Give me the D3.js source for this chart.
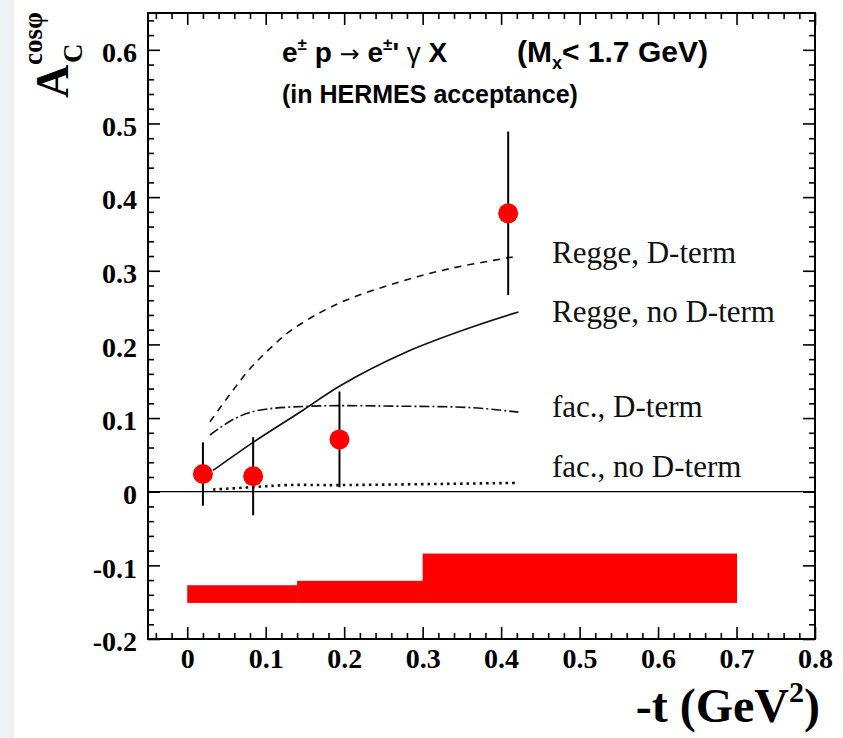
<!DOCTYPE html>
<html>
<head>
<meta charset="utf-8">
<script src="https://cdnjs.cloudflare.com/ajax/libs/d3/7.8.5/d3.min.js"></script>
<style>
  body { margin: 0; background: #fff; }
  svg { display: block; }
</style>
</head>
<body>
<div class="chart"></div>
<script>
// data points: -t, A_C, stat error
var tVals = [0.020, 0.084, 0.194, 0.409];
var aVals = [0.024, 0.021, 0.071, 0.378];
var aErr  = [0.043, 0.053, 0.065, 0.111];

// model curves
var dashT         = [0.029, 0.055, 0.080, 0.106, 0.131, 0.169, 0.207, 0.271, 0.335, 0.422];
var reggeDterm    = [0.095, 0.133, 0.167, 0.195, 0.218, 0.243, 0.262, 0.285, 0.303, 0.320];
var solidT        = [0.033, 0.084, 0.148, 0.195, 0.280, 0.364, 0.422];
var reggeNoDterm  = [0.029, 0.067, 0.111, 0.144, 0.190, 0.224, 0.244];
var facT          = [0.029, 0.060, 0.089, 0.153, 0.280, 0.364, 0.422];
var facDterm      = [0.077, 0.099, 0.110, 0.116, 0.116, 0.114, 0.108];
var dotT          = [0.033, 0.080, 0.127, 0.195, 0.422];
var facNoDterm    = [0.003, 0.006, 0.009, 0.009, 0.012];

// systematic error band: bin edges, top values, common bottom
var bandEdges = [0.0, 0.14, 0.30, 0.70];
var bandTop   = [-0.127, -0.121, -0.084];
var bandBottom = -0.151;

var legendNames = ["Regge, D-term", "Regge, no D-term", "fac., D-term", "fac., no D-term"];
var legendVals  = [0.310, 0.230, 0.101, 0.020];

var xMajor = [0, 0.1, 0.2, 0.3, 0.4, 0.5, 0.6, 0.7, 0.8];
var yMajor = [-0.2, -0.1, 0, 0.1, 0.2, 0.3, 0.4, 0.5, 0.6];

var W = 843, H = 738;
var frameL = 148, frameR = 815, frameT = 13, frameB = 639;

var svg = d3.select(".chart").append("svg")
    .attr("width", W)
    .attr("height", H);

// faint strip on the left like the scan
svg.append("rect")
    .attr("x", 0).attr("y", 0)
    .attr("width", 14).attr("height", H)
    .attr("fill", "#eef1f6");

var x = d3.scaleLinear().domain([-0.05, 0.8]).range([frameL, frameR]);
var y = d3.scaleLinear().domain([-0.2, 0.65]).range([frameB, frameT]);

var xMinor = d3.range(-2, 41).map(function(i){ return i * 0.02; })
    .filter(function(v){ return Math.abs(v * 10 - Math.round(v * 10)) > 1e-6; });
var yMinor = d3.range(-10, 33).map(function(i){ return i * 0.02; })
    .filter(function(v){ return Math.abs(v * 10 - Math.round(v * 10)) > 1e-6; });

var serif = "'Liberation Serif', 'Times New Roman', serif";
var sans = "'Liberation Sans', Arial, Helvetica, sans-serif";

// tick label format with plain hyphen like the original
function fmt(d) {
  if (Math.abs(d) < 1e-9) return "0";
  return (d < 0 ? "-" : "") + Math.abs(d).toFixed(1);
}

// error band
var bands = d3.range(bandTop.length).map(function(i){
  return {x0: bandEdges[i], x1: bandEdges[i+1], top: bandTop[i]};
});
svg.append("g").selectAll("rect")
  .data(bands)
  .enter()
    .append("rect")
    .attr("x", function(d){ return x(d.x0); })
    .attr("width", function(d){ return x(d.x1) - x(d.x0) + 0.5; })
    .attr("y", function(d){ return y(d.top); })
    .attr("height", function(d){ return y(bandBottom) - y(d.top); })
    .attr("fill", "#ff0000");

// zero line
svg.append("line")
    .attr("x1", frameL).attr("x2", frameR)
    .attr("y1", y(0)).attr("y2", y(0))
    .attr("stroke", "#000").attr("stroke-width", 1.3);

// curves
function drawCurve(ts, vs, dash, width) {
  var pts = ts.map(function(t, i){ return [t, vs[i]]; });
  var line = d3.line()
      .x(function(d){ return x(d[0]); })
      .y(function(d){ return y(d[1]); })
      .curve(d3.curveCatmullRom.alpha(0.5));
  svg.append("path")
      .datum(pts)
      .attr("fill", "none")
      .attr("stroke", "#111")
      .attr("stroke-width", width)
      .attr("stroke-dasharray", dash)
      .attr("d", line);
}
drawCurve(dashT, reggeDterm, "7,6", 1.6);
drawCurve(solidT, reggeNoDterm, null, 1.7);
drawCurve(facT, facDterm, "10,3,2,3", 1.6);
drawCurve(dotT, facNoDterm, "2.5,4", 2.6);

// error bars
svg.append("g").selectAll("line")
  .data(tVals)
  .enter()
    .append("line")
    .attr("x1", function(d){ return x(d); })
    .attr("x2", function(d){ return x(d); })
    .attr("y1", function(d, i){ return y(aVals[i] + aErr[i]); })
    .attr("y2", function(d, i){ return y(aVals[i] - aErr[i]); })
    .attr("stroke", "#000")
    .attr("stroke-width", 2);

// markers
svg.append("g").selectAll("circle")
  .data(tVals)
  .enter()
    .append("circle")
    .attr("cx", function(d){ return x(d); })
    .attr("cy", function(d, i){ return y(aVals[i]); })
    .attr("r", 10)
    .attr("fill", "#ff0000");

// axes: ticks inward on all sides
function styleAxis(g) {
  g.select(".domain").remove();
  g.selectAll(".tick line").attr("stroke", "#000").attr("stroke-width", 1.6);
  g.selectAll("text")
    .attr("fill", "#000")
    .style("font-family", serif)
    .style("font-weight", "bold")
    .style("font-size", "28px");
}

svg.append("g")
    .attr("transform", "translate(0," + frameB + ")")
    .call(d3.axisBottom(x).tickValues(xMajor).tickSize(-12).tickPadding(9).tickFormat(fmt))
    .call(styleAxis);
svg.append("g")
    .attr("transform", "translate(0," + frameB + ")")
    .call(d3.axisBottom(x).tickValues(xMinor).tickSize(-6).tickFormat(""))
    .call(styleAxis);
svg.append("g")
    .attr("transform", "translate(0," + frameT + ")")
    .call(d3.axisTop(x).tickValues(xMajor).tickSize(-12).tickFormat(""))
    .call(styleAxis);
svg.append("g")
    .attr("transform", "translate(0," + frameT + ")")
    .call(d3.axisTop(x).tickValues(xMinor).tickSize(-6).tickFormat(""))
    .call(styleAxis);

svg.append("g")
    .attr("transform", "translate(" + frameL + ",0)")
    .call(d3.axisLeft(y).tickValues(yMajor).tickSize(-12).tickPadding(11).tickFormat(fmt))
    .call(styleAxis)
    .selectAll("text").attr("dy", "0.42em");
svg.append("g")
    .attr("transform", "translate(" + frameL + ",0)")
    .call(d3.axisLeft(y).tickValues(yMinor).tickSize(-6).tickFormat(""))
    .call(styleAxis);
svg.append("g")
    .attr("transform", "translate(" + frameR + ",0)")
    .call(d3.axisRight(y).tickValues(yMajor).tickSize(-12).tickFormat(""))
    .call(styleAxis);
svg.append("g")
    .attr("transform", "translate(" + frameR + ",0)")
    .call(d3.axisRight(y).tickValues(yMinor).tickSize(-6).tickFormat(""))
    .call(styleAxis);

// frame
svg.append("rect")
    .attr("x", frameL).attr("y", frameT)
    .attr("width", frameR - frameL).attr("height", frameB - frameT)
    .attr("fill", "none")
    .attr("stroke", "#000")
    .attr("stroke-width", 2);

// legend labels next to the curves
svg.append("g").selectAll("text")
  .data(legendNames)
  .enter()
    .append("text")
    .attr("x", 552)
    .attr("y", function(d, i){ return y(legendVals[i]); })
    .style("font-family", serif)
    .style("font-size", "31px")
    .attr("fill", "#111")
    .text(function(d){ return d; });

// title
var title = svg.append("text")
    .attr("x", 282).attr("y", 62)
    .style("font-family", sans)
    .style("font-weight", "bold")
    .style("font-size", "28px")
    .attr("fill", "#000");
title.append("tspan").text("e");
title.append("tspan").attr("dy", -12).style("font-size", "17px").text("\u00b1");
title.append("tspan").attr("dy", 12).text(" p ");
title.append("tspan").style("font-weight", "normal").style("font-family", "'DejaVu Sans', sans-serif")
    .style("font-size", "24px").text("\u2192");
title.append("tspan").text(" e");
title.append("tspan").attr("dy", -12).style("font-size", "17px").text("\u00b1");
title.append("tspan").attr("dy", 12).text("' ");
title.append("tspan").style("font-weight", "normal").text("\u03b3");
title.append("tspan").text(" X");

var title2 = svg.append("text")
    .attr("x", 517).attr("y", 62)
    .style("font-family", sans)
    .style("font-weight", "bold")
    .style("font-size", "30px")
    .attr("fill", "#000");
title2.append("tspan").text("(M");
title2.append("tspan").attr("dy", 7).style("font-size", "18px").text("x");
title2.append("tspan").attr("dy", -7).text("< 1.7 GeV)");

svg.append("text")
    .attr("x", 282).attr("y", 103)
    .style("font-family", sans)
    .style("font-weight", "bold")
    .style("font-size", "25px")
    .attr("fill", "#000")
    .text("(in HERMES acceptance)");

// y label A_C^cos(phi), rotated
var ylab = svg.append("g")
    .attr("transform", "translate(68,98) rotate(-90)")
    .style("font-family", serif)
    .style("font-weight", "bold")
    .attr("fill", "#000");
ylab.append("text").attr("x", 0).attr("y", 0)
    .style("font-size", "46px").text("A");
ylab.append("text").attr("x", 35).attr("y", 14)
    .style("font-size", "27px").text("C");
ylab.append("text").attr("x", 33).attr("y", -26)
    .style("font-size", "27px").text("cos\u03c6");

// x label
var xlab = svg.append("text")
    .attr("x", 820).attr("y", 722)
    .attr("text-anchor", "end")
    .style("font-family", serif)
    .style("font-weight", "bold")
    .style("font-size", "48px")
    .attr("fill", "#000");
xlab.append("tspan").text("-t (GeV");
xlab.append("tspan").attr("dy", -20).style("font-size", "30px").text("2");
xlab.append("tspan").attr("dy", 20).text(")");
</script>
</body>
</html>
